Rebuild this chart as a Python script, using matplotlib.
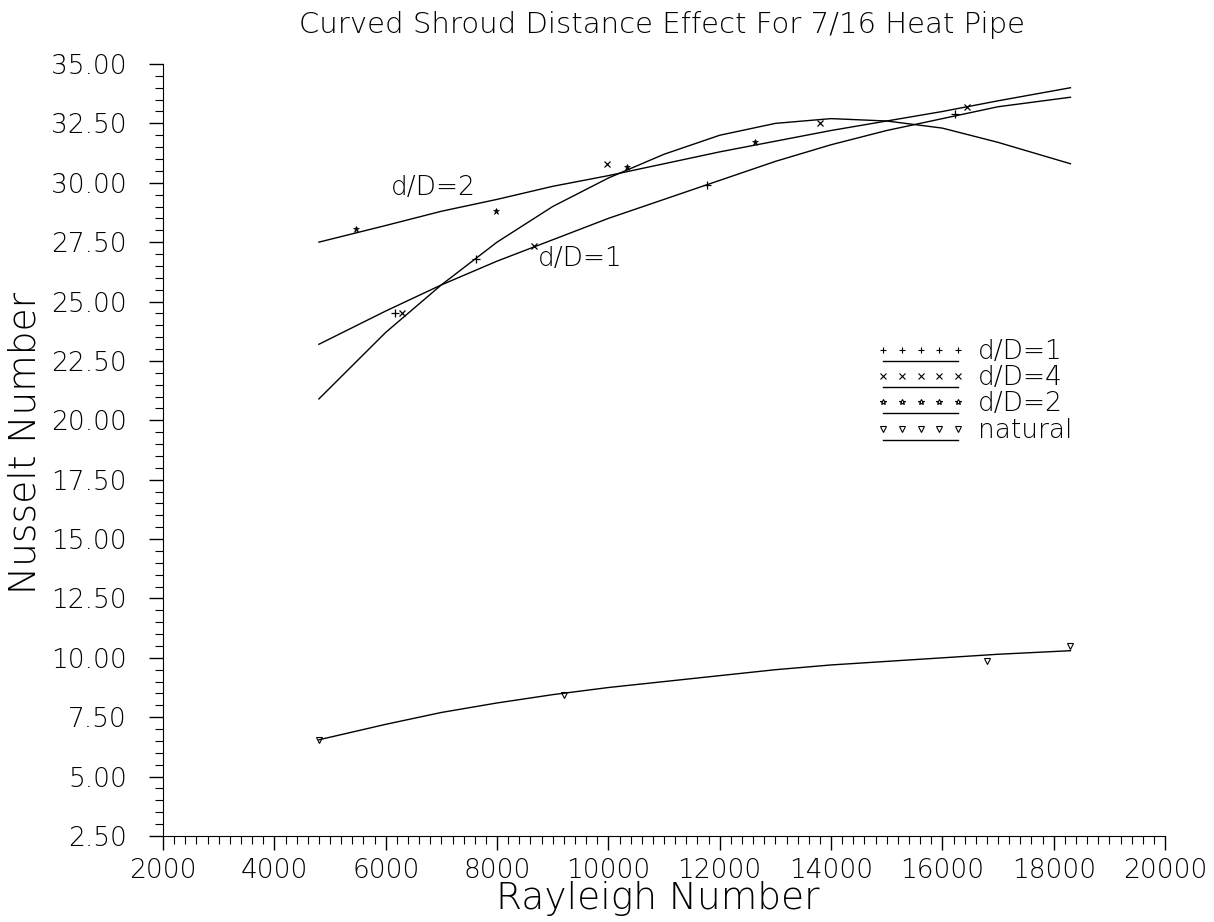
import numpy as np
import matplotlib.pyplot as plt
from matplotlib.lines import Line2D
from matplotlib.legend_handler import HandlerBase
from matplotlib.ticker import MultipleLocator, FormatStrFormatter

plt.rcParams['font.family'] = ['DejaVu Sans']
plt.rcParams['font.weight'] = 'light'

# fitted curves
ra_fit = [4800, 6000, 7000, 8000, 9000, 10000, 11000, 12000, 13000, 14000, 15000, 16000, 17000, 18300]
nu_d1_fit = [23.2, 24.6, 25.7, 26.7, 27.6, 28.5, 29.3, 30.1, 30.9, 31.6, 32.2, 32.7, 33.2, 33.6]
nu_d4_fit = [20.9, 23.7, 25.7, 27.5, 29.0, 30.2, 31.2, 32.0, 32.5, 32.7, 32.6, 32.3, 31.7, 30.8]
nu_d2_fit = [27.5, 28.2, 28.8, 29.3, 29.85, 30.3, 30.8, 31.3, 31.75, 32.2, 32.6, 33.0, 33.45, 34.0]
nu_nat_fit = [6.55, 7.2, 7.7, 8.1, 8.45, 8.75, 9.0, 9.25, 9.5, 9.7, 9.85, 10.0, 10.15, 10.3]

# measured points
ra_d1 = [6170, 7630, 11780, 16220]
nu_d1 = [24.5, 26.8, 29.9, 32.9]
ra_d4 = [6300, 8660, 9970, 13800, 16450]
nu_d4 = [24.5, 27.35, 30.8, 32.5, 33.2]
ra_d2 = [5460, 7990, 10330, 12640]
nu_d2 = [28.05, 28.8, 30.65, 31.7]
ra_nat = [4800, 9200, 16800, 18300]
nu_nat = [6.55, 8.45, 9.85, 10.5]

labels = ['d/D=1', 'd/D=4', 'd/D=2', 'natural']
markers = ['+', 'x', '*', 'v']


class RowHandler(HandlerBase):
    # five markers in a row with a line just under them, like the plotter legend
    def create_artists(self, legend, orig, xd, yd, w, h, fontsize, trans):
        xs = np.linspace(0, w, 5) - xd
        mk = Line2D(xs, np.full(5, h * 0.5 - yd), ls='none', marker=orig.get_marker(),
                    ms=4, mew=0.8, color='k', mfc='none', transform=trans)
        ln = Line2D([-xd, w - xd], [h * 0.5 - 0.42 * fontsize - yd] * 2,
                    color='k', lw=1.0, transform=trans)
        return [mk, ln]


fig = plt.figure(figsize=(12.14, 9.22), dpi=100)
ax = fig.add_axes([0.1343, 0.0933, 0.8254, 0.8373])

for yfit in [nu_d1_fit, nu_d4_fit, nu_d2_fit, nu_nat_fit]:
    ax.plot(ra_fit, yfit, color='k', lw=1.0)

ax.plot(ra_d1, nu_d1, ls='none', marker='+', ms=6, mew=0.9, color='k')
ax.plot(ra_d4, nu_d4, ls='none', marker='x', ms=4, mew=0.9, color='k')
ax.plot(ra_d2, nu_d2, ls='none', marker='*', ms=5, mew=0.5, color='k')
ax.plot(ra_nat, nu_nat, ls='none', marker='v', ms=4, mew=0.8, color='k', mfc='none')

ax.text(6850, 29.8, 'd/D=2', fontsize=19, ha='center', va='center')
ax.text(9500, 26.8, 'd/D=1', fontsize=19, ha='center', va='center')

handles = [Line2D([], [], marker=m, color='k') for m in markers]
leg = ax.legend(handles, labels, loc='upper left', bbox_to_anchor=(0.7186, 0.644),
                frameon=False, fontsize=19, handlelength=2.84, handletextpad=0.76,
                labelspacing=0.05, borderpad=0, borderaxespad=0,
                handler_map={Line2D: RowHandler()})

ax.set_xlim(2000, 20000)
ax.set_ylim(2.5, 35)
ax.xaxis.set_major_locator(MultipleLocator(2000))
ax.xaxis.set_minor_locator(MultipleLocator(200))
ax.yaxis.set_major_locator(MultipleLocator(2.5))
ax.yaxis.set_minor_locator(MultipleLocator(0.5))
ax.yaxis.set_major_formatter(FormatStrFormatter('%.2f'))
ax.spines['top'].set_visible(False)
ax.spines['right'].set_visible(False)
ax.tick_params(which='major', length=10, width=1.0, labelsize=19)
ax.tick_params(axis='y', which='major', pad=16)
ax.tick_params(axis='x', which='major', pad=6)
ax.tick_params(which='minor', length=6, width=0.8)

fig.text(0.545, 0.973, 'Curved Shroud Distance Effect For 7/16 Heat Pipe',
         ha='center', va='center', fontsize=21)
fig.text(0.542, 0.025, 'Rayleigh Number', ha='center', va='center', fontsize=27)
fig.text(0.021, 0.52, 'Nusselt Number', ha='center', va='center', fontsize=27, rotation=90)

fig.savefig('out.png', dpi=100)
